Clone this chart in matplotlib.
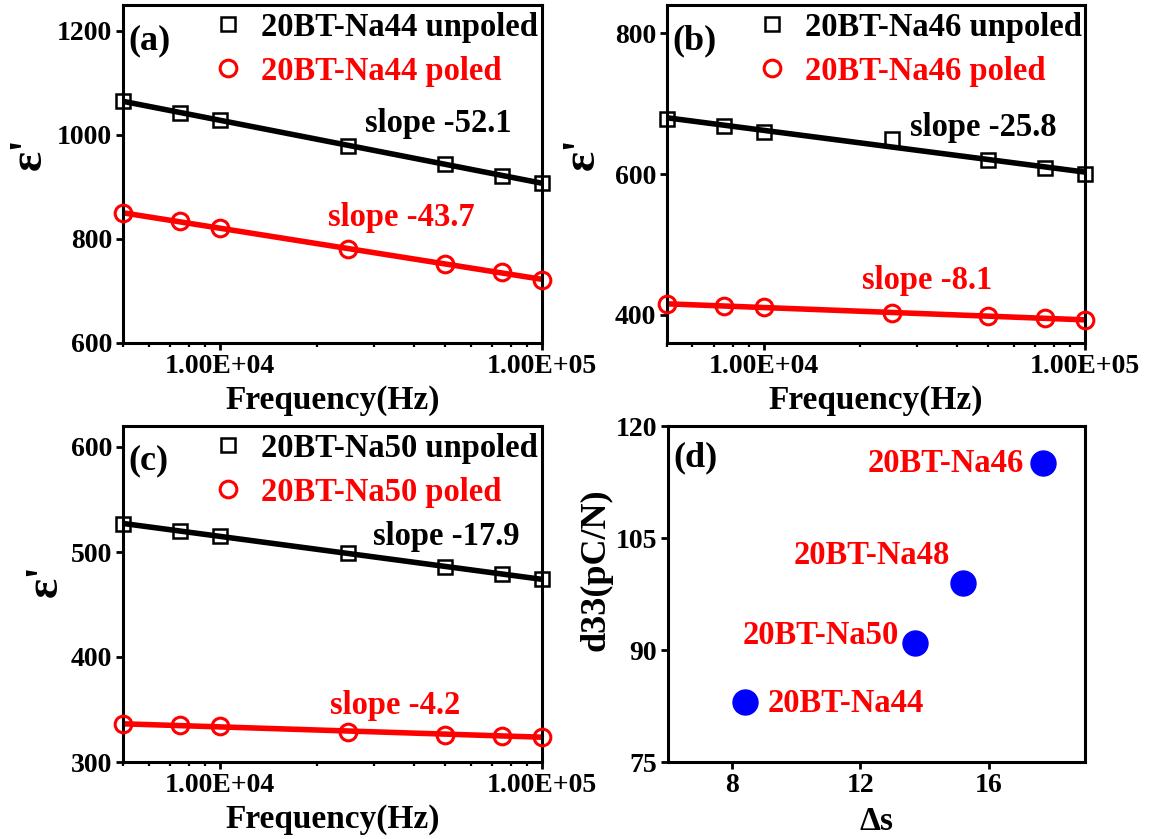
import numpy as np
import matplotlib
matplotlib.use("Agg")
import matplotlib.pyplot as plt
from matplotlib.ticker import FixedLocator, LogLocator, NullFormatter

plt.rcParams['font.family'] = ['Liberation Serif', 'DejaVu Serif']
plt.rcParams['font.weight'] = 'bold'
plt.rcParams['axes.labelweight'] = 'bold'
plt.rcParams['mathtext.default'] = 'regular'

# ---------------- data ----------------
freq = [5000, 7500, 10000, 25000, 50000, 75000, 100000]

na44_unpoled = [1066, 1042, 1029, 979, 944, 922, 908]
na44_poled = [850, 834, 821, 780, 752, 736, 722]
na46_unpoled = [678, 668, 660, 649, 620, 608, 600]
na46_poled = [415, 413, 411, 403, 398, 395, 393]
na50_unpoled = [527, 520, 515, 499, 486, 479, 474]
na50_poled = [336, 335, 334, 329, 326, 325, 324]

slope_texts = {
    'a': ('slope -52.1', 'slope -43.7'),
    'b': ('slope -25.8', 'slope -8.1'),
    'c': ('slope -17.9', 'slope -4.2'),
}

delta_s = [8.4, 13.7, 15.2, 17.7]
d33 = [83, 91, 99, 115]
d_labels = ['20BT-Na44', '20BT-Na50', '20BT-Na48', '20BT-Na46']

xtick_vals = [1e4, 1e5]
xtick_labels = ['1.00E+04', '1.00E+05']

# ---------------- figure ----------------
W, H = 1150, 839
fig = plt.figure(figsize=(W / 100, H / 100), dpi=100)


def ax_at(x0, y0, x1, y1):
    return fig.add_axes([x0 / W, 1 - y1 / H, (x1 - x0) / W, (y1 - y0) / H])


axa = ax_at(123, 5, 542, 343)
axb = ax_at(667, 5, 1085, 343)
axc = ax_at(123, 426, 542, 762)
axd = ax_at(668, 426, 1085, 762)

TICK_FS = 20
LABEL_FS = 24
TEXT_FS = 23.5


def style_axes(ax):
    for s in ax.spines.values():
        s.set_linewidth(2.2)
    ax.tick_params(which='major', direction='out', length=5, width=2,
                   labelsize=TICK_FS, top=False, right=False, pad=3)
    ax.tick_params(which='minor', direction='out', length=3, width=1.6,
                   top=False, right=False)


def place_ylabel(ax, xf, yf):
    lab = ax.yaxis.label
    lab.set_rotation_mode('default')
    lab.set_va('center')
    lab.set_ha('center')
    ax.yaxis.set_label_coords(xf, yf)


def freq_panel(ax, unp, pol, name, ylim, yticks, letter, slopes, spos, ylab_pos):
    x = np.array(freq, dtype=float)
    for vals, col in ((unp, 'black'), (pol, 'red')):
        p = np.polyfit(np.log10(x), vals, 1)
        ax.plot(x, np.polyval(p, np.log10(x)), color=col, lw=4, zorder=2,
                solid_capstyle='butt')
    ax.plot(x, unp, ls='none', marker='s', ms=10.5, mfc='none', mec='black',
            mew=1.8, label=f'20BT-{name} unpoled', zorder=3, clip_on=False)
    ax.plot(x, pol, ls='none', marker='o', ms=12, mfc='none', mec='red',
            mew=2.2, label=f'20BT-{name} poled', zorder=3, clip_on=False)
    ax.set_xscale('log')
    ax.set_xlim(5000, 1e5)
    ax.set_ylim(*ylim)
    ax.xaxis.set_major_locator(FixedLocator(xtick_vals))
    ax.set_xticklabels(xtick_labels)
    ax.xaxis.set_minor_locator(LogLocator(base=10, subs=np.arange(2, 10)))
    ax.xaxis.set_minor_formatter(NullFormatter())
    ax.yaxis.set_major_locator(FixedLocator(yticks))
    style_axes(ax)
    for lab in ax.get_xticklabels() + ax.get_yticklabels():
        lab.set_fontweight('bold')
    ax.set_xlabel('Frequency(Hz)', fontsize=LABEL_FS, labelpad=4)
    ax.set_ylabel("ε'", fontsize=34)
    place_ylabel(ax, *ylab_pos)
    ax.legend(loc='upper left', bbox_to_anchor=(0.205, 0.99), frameon=False,
              fontsize=TEXT_FS, handlelength=1.0, handletextpad=0.5,
              labelspacing=0.4, borderaxespad=0.0, borderpad=0.1,
              labelcolor=['black', 'red'])
    ax.text(0.012, 0.895, f'({letter})', transform=ax.transAxes,
            fontsize=26, va='center', ha='left')
    ax.text(spos[0][0], spos[0][1], slopes[0], transform=ax.transAxes,
            fontsize=TEXT_FS, va='center', ha='left', color='black')
    ax.text(spos[1][0], spos[1][1], slopes[1], transform=ax.transAxes,
            fontsize=TEXT_FS, va='center', ha='left', color='red')


freq_panel(axa, na44_unpoled, na44_poled, 'Na44', (600, 1250),
           [600, 800, 1000, 1200], 'a', slope_texts['a'],
           ((0.578, 0.648), (0.49, 0.37)), (-0.222, 0.562))
freq_panel(axb, na46_unpoled, na46_poled, 'Na46', (360, 840),
           [400, 600, 800], 'b', slope_texts['b'],
           ((0.581, 0.639), (0.467, 0.186)), (-0.201, 0.562))
freq_panel(axc, na50_unpoled, na50_poled, 'Na50', (300, 620),
           [300, 400, 500, 600], 'c', slope_texts['c'],
           ((0.597, 0.67), (0.494, 0.167)), (-0.184, 0.542))

# ---------------- panel d ----------------
axd.plot(delta_s, d33, ls='none', marker='o', ms=18, color='#0000ff',
         mec='#0000ff', zorder=3)
axd.set_xlim(6, 19)
axd.set_ylim(75, 120)
axd.xaxis.set_major_locator(FixedLocator([8, 12, 16]))
axd.yaxis.set_major_locator(FixedLocator([75, 90, 105, 120]))
style_axes(axd)
axd.set_xlabel('Δs', fontsize=LABEL_FS, labelpad=6)
axd.set_ylabel('d33(pC/N)', fontsize=26)
place_ylabel(axd, -0.173, 0.571)
axd.text(0.012, 0.905, '(d)', transform=axd.transAxes, fontsize=26,
         va='center', ha='left')

label_pos = {
    '20BT-Na44': (9.1, 82.9, 'left'),
    '20BT-Na50': (13.19, 91.9, 'right'),
    '20BT-Na48': (14.8, 102.6, 'right'),
    '20BT-Na46': (17.1, 115.0, 'right'),
}
for lab in d_labels:
    x, y, ha = label_pos[lab]
    axd.text(x, y, lab, color='red', fontsize=TEXT_FS, ha=ha, va='center')

fig.savefig('out.png', dpi=100)
